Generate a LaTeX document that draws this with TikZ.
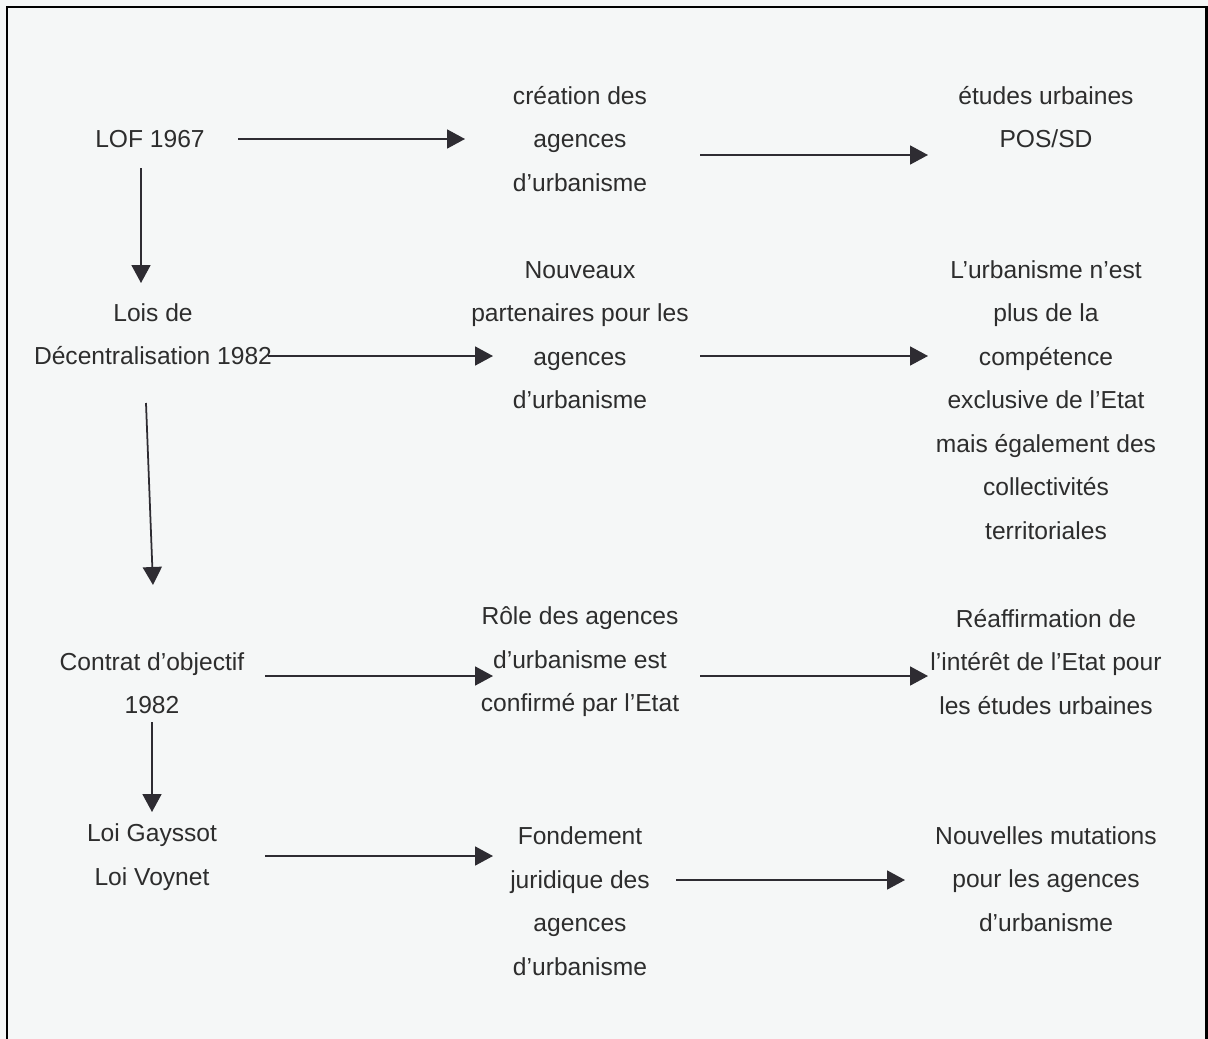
\documentclass[tikz,border=0pt]{standalone}
\usepackage{fontspec}
\setmainfont{Liberation Sans}
\usepackage{tikz}
\usetikzlibrary{arrows.meta,positioning}
\usepackage{xcolor}
\definecolor{inkgray}{RGB}{46,44,50}
\definecolor{textgray}{RGB}{45,45,45}
\definecolor{paper}{RGB}{245,247,247}

\tikzset{
    label text/.style={align=center, text=textgray, inner sep=0pt,
        font={\fontsize{14pt}{24.75pt}\selectfont}},
    arr/.style={line width=1pt, draw=inkgray,
        -{Triangle[length=3.6mm, width=3.8mm]}}
}

\begin{document}
\begin{tikzpicture}[x=0.2mm, y=-0.2mm]
    % --- page and frame ---
    \useasboundingbox (0,0) rectangle (1208,1039);
    \fill[paper] (0,0) rectangle (1208,1039);
    \draw[line width=1.7pt, black] (7,1039) -- (7,7) -- (1206,7) -- (1206,1039);

    % --- left column ---
    \node[label text] (lof) at (150,139) {LOF 1967};
    \node[label text] (lois) at (153,334) {Lois de\\D\'ecentralisation 1982};
    \node[label text] (contrat) at (152,683) {Contrat d’objectif\\1982};
    \node[label text] (gayssot) at (152,857) {Loi Gayssot\\Loi Voynet};

    % --- middle column ---
    \node[label text] (creation) at (580,139) {création des\\agences\\d’urbanisme};
    \node[label text] (partenaires) at (580,335) {Nouveaux\\partenaires pour les\\agences\\d’urbanisme};
    \node[label text] (role) at (580,662) {Rôle des agences\\d’urbanisme est\\confirmé par l’Etat};
    \node[label text] (fondement) at (580,901) {Fondement\\juridique des\\agences\\d’urbanisme};

    % --- right column ---
    \node[label text] (etudes) at (1046,117) {études urbaines\\POS/SD};
    \node[label text] (competence) at (1046,400) {L’urbanisme n’est\\plus de la\\compétence\\exclusive de l’Etat\\mais également des\\collectivités\\territoriales};
    \node[label text] (reaffirm) at (1046,662) {Réaffirmation de\\l’intérêt de l’Etat pour\\les études urbaines};
    \node[label text] (mutations) at (1046,879) {Nouvelles mutations\\pour les agences\\d’urbanisme};

    % --- arrow ends ---
    \coordinate (lofOut) at (238,139);   \coordinate (creaIn) at (465,139);
    \coordinate (creaOut) at (700,155);  \coordinate (etudIn) at (928,155);
    \coordinate (loisOut) at (268,356);  \coordinate (partIn) at (493,356);
    \coordinate (partOut) at (700,356);  \coordinate (compIn) at (928,356);
    \coordinate (contOut) at (265,676);  \coordinate (roleIn) at (493,676);
    \coordinate (roleOut) at (700,676);  \coordinate (reafIn) at (928,676);
    \coordinate (gaysOut) at (265,856);  \coordinate (fondIn) at (493,856);
    \coordinate (fondOut) at (676,880);  \coordinate (mutaIn) at (905,880);
    \coordinate (lofDown) at (141,168);  \coordinate (loisIn) at (141,283);
    \coordinate (loisDown) at (146,403); \coordinate (contIn) at (153,585);
    \coordinate (contDown) at (152,722); \coordinate (gaysIn) at (152,812);

    % --- horizontal arrows ---
    \draw[arr] (lofOut) -- (creaIn);
    \draw[arr] (creaOut) -- (etudIn);
    \draw[arr] (loisOut) -- (partIn);
    \draw[arr] (partOut) -- (compIn);
    \draw[arr] (contOut) -- (roleIn);
    \draw[arr] (roleOut) -- (reafIn);
    \draw[arr] (gaysOut) -- (fondIn);
    \draw[arr] (fondOut) -- (mutaIn);

    % --- vertical arrows ---
    \draw[arr] (lofDown) -- (loisIn);
    \draw[arr] (loisDown) -- (contIn);
    \draw[arr] (contDown) -- (gaysIn);
\end{tikzpicture}
\end{document}
